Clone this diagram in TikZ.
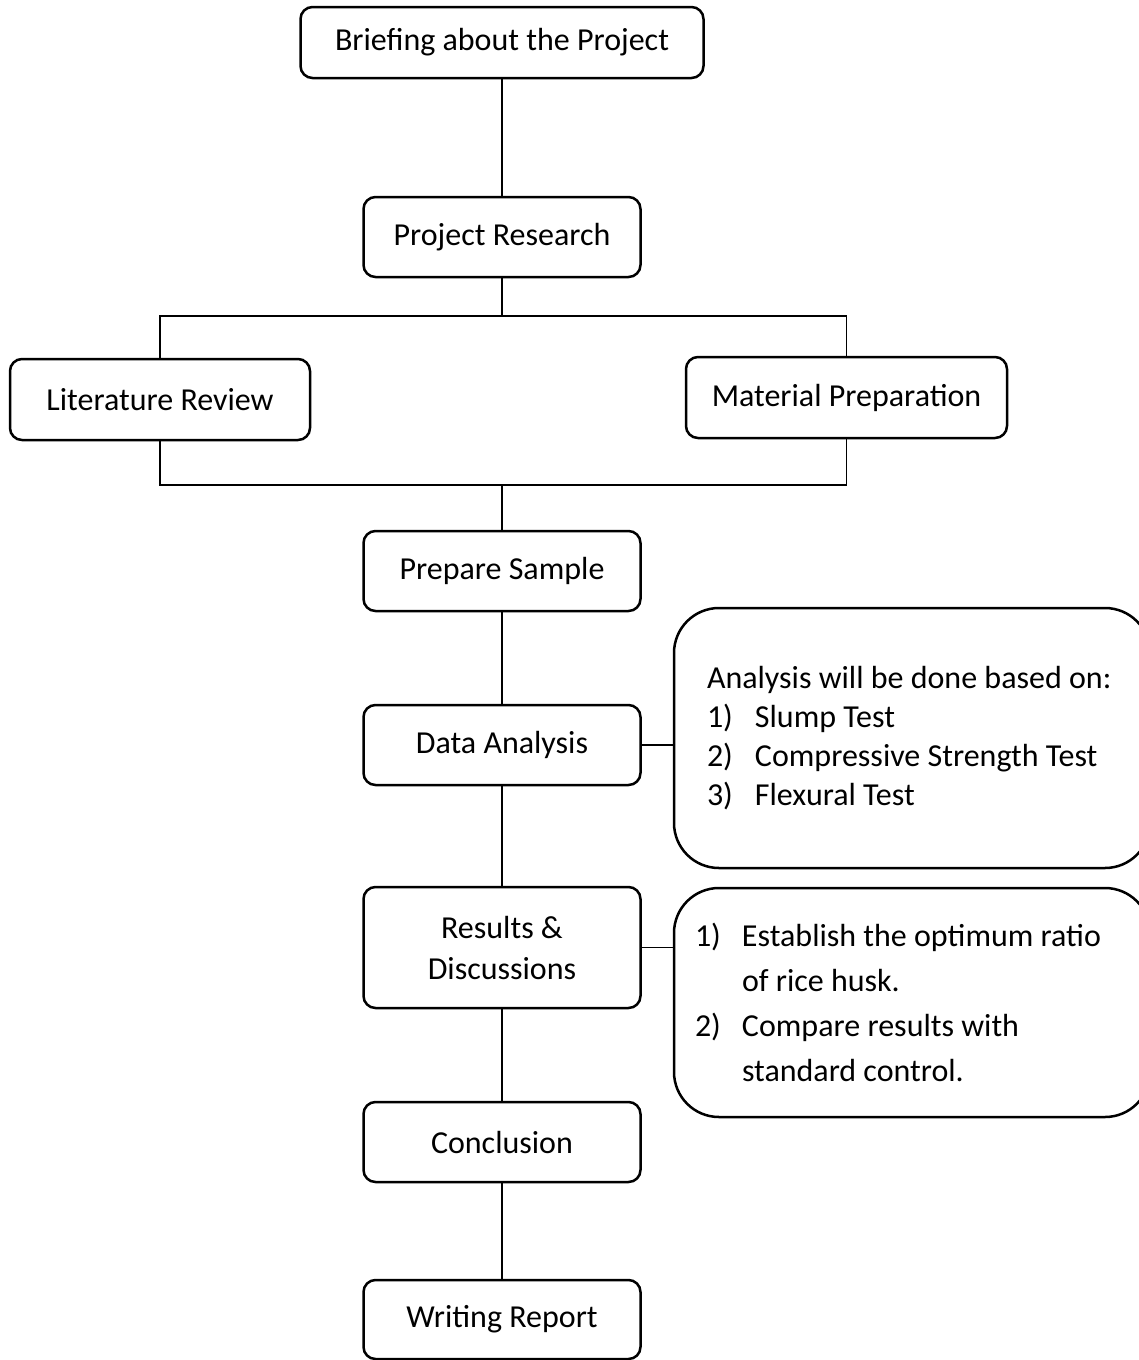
\documentclass[tikz,border=0pt]{standalone}
\usepackage{fontspec}
\setmainfont{Carlito}
\usetikzlibrary{shapes.geometric, arrows}
\tikzstyle{stage} = [
    rectangle,
    rounded corners=12pt,
    minimum width=277pt,
    minimum height=80pt,
    inner sep=0pt,
    align=center,
    font=\fontsize{32}{41}\selectfont,
    line width=2.5pt,
    draw=black
]
\tikzstyle{note} = [
    rectangle,
    rounded corners=45pt,
    minimum width=476pt,
    inner sep=0pt,
    align=flush left,
    line width=2.5pt,
    draw=black
]
\tikzstyle{link} = [line width=1.3pt]

\begin{document}
\begin{tikzpicture}[x=1pt, y=-1pt]

\useasboundingbox (0,0) rectangle (1139,1360);

\node (brief) [stage, minimum width=403pt, minimum height=71pt] at (502,42.5)
{Briefing about the Project};

\node (research) [stage] at (502,237)
{Project Research};

\node (review) [stage, minimum width=300pt, minimum height=81pt] at (160,399.5)
{Literature Review};

\node (material) [stage, minimum width=321pt, minimum height=81pt] at (846.5,397.5)
{Material Preparation};

\node (sample) [stage] at (502,571)
{Prepare Sample};

\node (analysis) [stage] at (502,745)
{Data Analysis};

\node (results) [stage, minimum height=121pt] at (502,947.5)
{Results \&\\Discussions};

\node (conclusion) [stage] at (502,1142)
{Conclusion};

\node (report) [stage, minimum height=79pt] at (502,1319.5)
{Writing Report};

\node (basis) [note, minimum height=260pt, text width=410pt,
    font=\fontsize{32}{39}\selectfont] at (912,738)
{Analysis will be done based on:\\
\makebox[48pt][l]{1)}Slump Test\\
\makebox[48pt][l]{2)}Compressive Strength Test\\
\makebox[48pt][l]{3)}Flexural Test};

\node (goals) [note, minimum height=229pt, text width=434pt,
    font=\fontsize{32}{45}\selectfont] at (912,1002.5)
{\makebox[47pt][l]{1)}Establish the optimum ratio\\
\hspace*{47pt}of rice husk.\\
\makebox[47pt][l]{2)}Compare results with\\
\hspace*{47pt}standard control.};

\coordinate (split) at (502,316);
\coordinate (join) at (502,485);

\draw [link] (brief) -- (research);
\draw [link] (research) -- (split);
\draw [link] (split) -| (review);
\draw [link] (split) -| (material);
\draw [link] (review) |- (join);
\draw [link] (material) |- (join);
\draw [link] (join) -- (sample);
\draw [link] (sample) -- (analysis);
\draw [link] (analysis) -- (results);
\draw [link] (results) -- (conclusion);
\draw [link] (conclusion) -- (report);
\draw [link] (analysis.east) -- (analysis.east -| basis.west);
\draw [link] (results.east) -- (results.east -| goals.west);

\end{tikzpicture}
\end{document}
